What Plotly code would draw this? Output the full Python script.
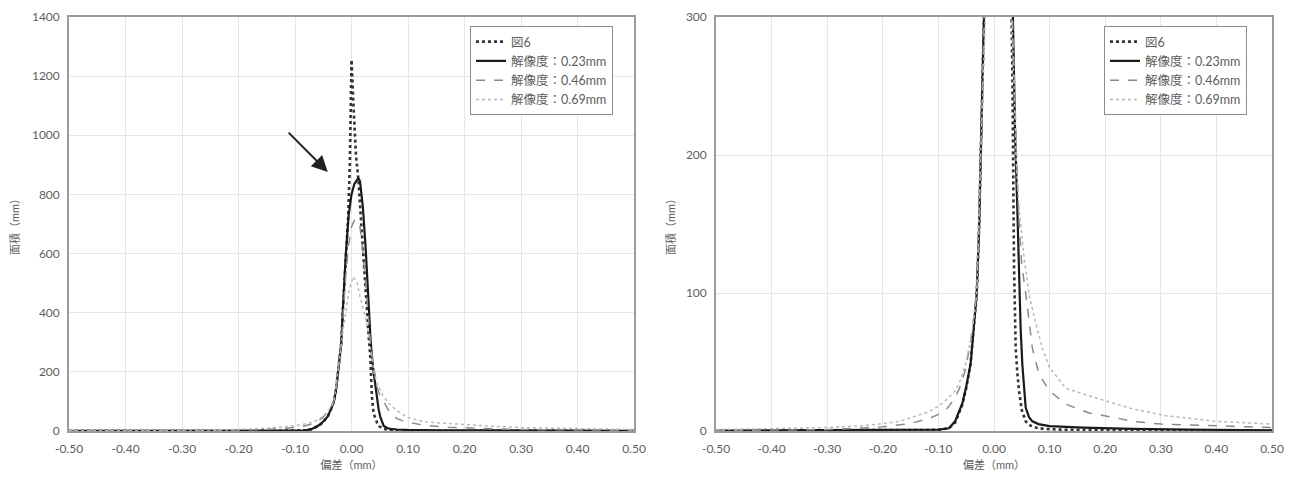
import plotly.graph_objects as go

# ---------------- data ----------------
x_fig6 = [-0.5, -0.2, -0.1, -0.081, -0.07, -0.057, -0.05, -0.042, -0.035, -0.031, -0.027, -0.024,
          -0.018, -0.015, -0.01, -0.006, -0.003, 0.0, 0.004, 0.008, 0.012, 0.016, 0.02, 0.025,
          0.03, 0.033, 0.036, 0.039, 0.042, 0.045, 0.05, 0.057, 0.065, 0.075, 0.09, 0.12, 0.2, 0.5]
y_fig6 = [0.2, 0.3, 0.8, 2, 6, 19, 31, 49, 80, 100, 145, 200,
          300, 420, 600, 720, 900, 1255, 1080, 930, 855, 730, 620, 470,
          330, 260, 120, 60, 42, 29, 15, 7, 4, 2.5, 1.5, 1, 0.5, 0.2]

x_r023 = [-0.5, -0.2, -0.1, -0.081, -0.07, -0.057, -0.05, -0.042, -0.035, -0.031, -0.027, -0.024,
          -0.018, -0.015, -0.01, -0.005, 0.0, 0.005, 0.012, 0.015, 0.02, 0.025, 0.03, 0.034,
          0.038, 0.042, 0.045, 0.048, 0.051, 0.057, 0.063, 0.069, 0.08, 0.1, 0.16, 0.25, 0.35, 0.5]
y_r023 = [0.3, 0.5, 1, 2, 7, 20, 32, 49, 80, 100, 145, 200,
          300, 420, 600, 730, 800, 835, 855, 845, 760, 620, 430, 300,
          215, 160, 109, 73, 48, 17, 10, 7, 5, 3.5, 2.5, 1.5, 1, 0.5]

x_r046 = [-0.5, -0.4, -0.3, -0.2, -0.15, -0.117, -0.1, -0.087, -0.07, -0.06, -0.051, -0.042,
          -0.035, -0.031, -0.027, -0.024, -0.018, -0.015, -0.01, -0.005, 0.0, 0.005, 0.01, 0.015,
          0.02, 0.025, 0.03, 0.034, 0.038, 0.042, 0.046, 0.05, 0.057, 0.063, 0.069, 0.081, 0.1,
          0.129, 0.171, 0.213, 0.25, 0.3, 0.4, 0.5]
y_r046 = [0.3, 0.5, 1, 3, 5.5, 9, 12, 15, 24, 33, 45, 65,
          88, 100, 145, 200, 300, 390, 530, 630, 690, 712, 715, 690,
          610, 500, 380, 290, 230, 180, 145, 120, 100, 78, 60, 41, 29,
          19.5, 13, 10, 7, 5, 3.5, 2.5]

x_r069 = [-0.5, -0.4, -0.3, -0.25, -0.207, -0.17, -0.15, -0.117, -0.1, -0.087, -0.07, -0.06,
          -0.051, -0.042, -0.035, -0.031, -0.024, -0.018, -0.015, -0.01, -0.005, 0.003, 0.01, 0.015,
          0.02, 0.025, 0.03, 0.033, 0.036, 0.04, 0.045, 0.05, 0.055, 0.06, 0.063, 0.075, 0.087, 0.1,
          0.129, 0.159, 0.19, 0.22, 0.25, 0.31, 0.4, 0.5]
y_r069 = [1, 1.5, 2.5, 3.5, 5, 7, 9.5, 14, 18, 22, 29, 37,
          49, 66, 85, 100, 200, 300, 340, 400, 470, 522, 500, 455,
          420, 380, 330, 290, 240, 195, 162, 140, 122, 109, 99, 78, 60, 46,
          31, 27, 23, 19.5, 16, 11, 7, 5]

series_names = ["図6", "解像度：0.23mm", "解像度：0.46mm", "解像度：0.69mm"]
x_ticks = [-0.5, -0.4, -0.3, -0.2, -0.1, 0.0, 0.1, 0.2, 0.3, 0.4, 0.5]
x_tick_labels = ["-0.50", "-0.40", "-0.30", "-0.20", "-0.10", "0.00",
                 "0.10", "0.20", "0.30", "0.40", "0.50"]
y_ticks_left = [0, 200, 400, 600, 800, 1000, 1200, 1400]
y_ticks_right = [0, 100, 200, 300]
x_title = "偏差（mm）"
y_title = "面積（mm）"

# ---------------- styles ----------------
styles = [
    dict(color="#333333", width=2.6, dash="dot"),
    dict(color="#1a1a1a", width=2.2, dash="solid"),
    dict(color="#8a8a8a", width=1.5, dash="dash"),
    dict(color="#b8b8b8", width=1.5, dash="dot"),
]
data = [(x_fig6, y_fig6), (x_r023, y_r023), (x_r046, y_r046), (x_r069, y_r069)]

FONT = "Lato, Noto Sans CJK JP, sans-serif"
# the page body has an 8px default margin, so the figure is drawn at (8, 8)
OFF = 8
W, H = 1300 - OFF, 477 - OFF


def px_x(p):
    return (p - OFF) / W


def px_y(p):
    return (H - (p - OFF)) / H


fig = go.Figure()
for (xs, ys), name, st in zip(data, series_names, styles):
    fig.add_trace(go.Scatter(x=xs, y=ys, mode="lines", name=name, line=st,
                             xaxis="x", yaxis="y", legend="legend"))
for (xs, ys), name, st in zip(data, series_names, styles):
    fig.add_trace(go.Scatter(x=xs, y=ys, mode="lines", name=name, line=st,
                             xaxis="x2", yaxis="y2", legend="legend2"))

ydom = [px_y(431), px_y(17)]
left_dom = [px_x(69), px_x(634)]
right_dom = [px_x(716), px_x(1272)]

TXT = "#5e5e5e"
axis_common = dict(showline=True, linecolor="#9c9c9c", linewidth=1.6, mirror=True,
                   showgrid=True, gridcolor="#e6e6e6", gridwidth=1, zeroline=False,
                   automargin=False, ticks="outside", tickcolor="rgba(0,0,0,0)",
                   tickfont=dict(family=FONT, size=12, color=TXT))
title_font = dict(family=FONT, size=11, color=TXT)
legend_common = dict(xanchor="left", yanchor="top", bgcolor="white",
                     bordercolor="#8c8c8c", borderwidth=1,
                     font=dict(family=FONT, size=12.5, color=TXT),
                     tracegroupgap=0, itemwidth=30)

fig.update_layout(
    width=W, height=H,
    margin=dict(l=0, r=0, t=0, b=0),
    paper_bgcolor="white", plot_bgcolor="white",
    font=dict(family=FONT, color=TXT),
    xaxis=dict(domain=left_dom, anchor="y", range=[-0.5, 0.5], tickvals=x_ticks,
               ticktext=x_tick_labels, ticklen=6,
               title=dict(text=x_title, font=title_font, standoff=6), **axis_common),
    yaxis=dict(domain=ydom, anchor="x", range=[0, 1400], tickvals=y_ticks_left, ticklen=5,
               title=dict(text=y_title, font=title_font, standoff=14), **axis_common),
    xaxis2=dict(domain=right_dom, anchor="y2", range=[-0.5, 0.5], tickvals=x_ticks,
                ticktext=x_tick_labels, ticklen=6,
                title=dict(text=x_title, font=title_font, standoff=6), **axis_common),
    yaxis2=dict(domain=ydom, anchor="x2", range=[0, 300], tickvals=y_ticks_right, ticklen=5,
                title=dict(text=y_title, font=title_font, standoff=8), **axis_common),
    legend=dict(x=px_x(470), y=px_y(26), **legend_common),
    legend2=dict(x=px_x(1104), y=px_y(26), **legend_common),
    showlegend=True,
)

# arrow in the left chart pointing at the peak
fig.add_annotation(x=-0.042, y=876, ax=-0.114, ay=1014, xref="x", yref="y",
                   axref="x", ayref="y", text="", showarrow=True,
                   arrowhead=2, arrowsize=1.6, arrowwidth=2, arrowcolor="#222222")

fig.write_html("out.html")
